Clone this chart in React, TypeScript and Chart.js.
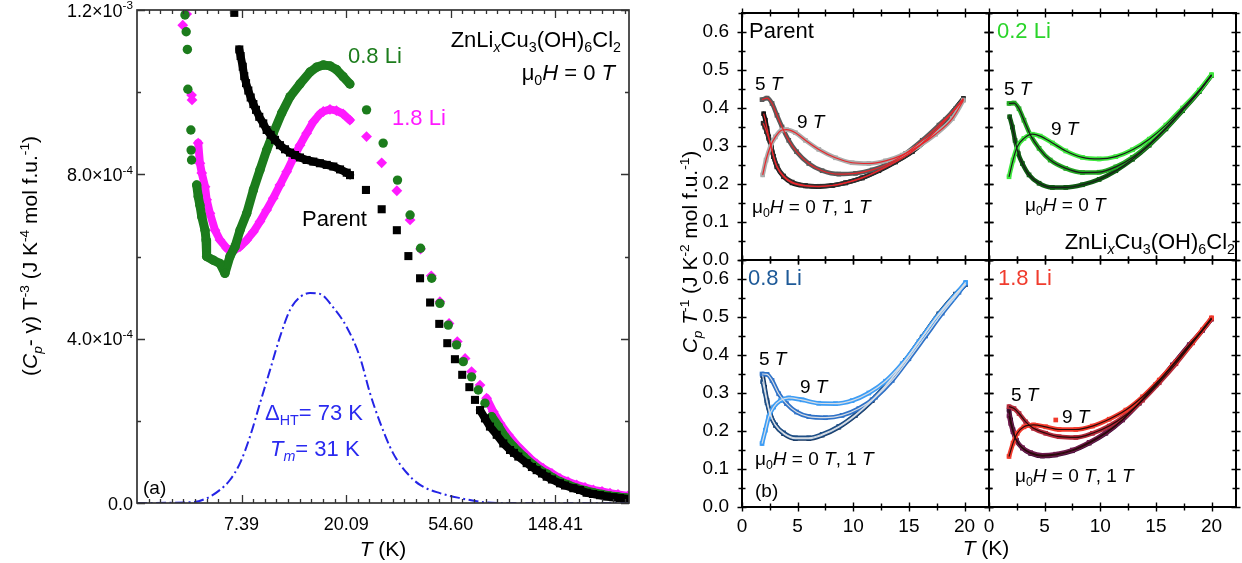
import React, { useEffect, useRef } from "react";
import { Chart, registerables } from "chart.js";
Chart.register(...registerables);

const FONT = "'Liberation Sans', Arial, Helvetica, sans-serif";
const W = 1242;
const H = 563;
type Pt = [number, number];
type Seg = [string, string?];

// ---------------- Panel (a) data: T (K), (Cp - gamma) T^-3 ----------------
const aParent: Pt[] = [
  [6.89, 1.193e-3], [7.23, 1.104e-3], [7.32, 1.088e-3], [7.47, 1.062e-3], [7.58, 1.039e-3], [7.71, 1.022e-3],
  [7.88, 1.004e-3], [8.06, 0.987e-3], [8.27, 0.971e-3], [8.48, 0.957e-3], [8.75, 0.94e-3], [9.09, 0.924e-3],
  [9.39, 0.908e-3], [9.76, 0.896e-3], [10.17, 0.884e-3], [10.66, 0.871e-3], [11.19, 0.861e-3], [11.74, 0.853e-3],
  [12.31, 0.847e-3], [12.91, 0.841e-3], [13.76, 0.835e-3], [14.67, 0.831e-3], [15.63, 0.827e-3], [16.68, 0.823e-3],
  [17.77, 0.819e-3], [18.94, 0.812e-3], [20.19, 0.804e-3], [20.83, 0.798e-3], [24.26, 0.762e-3], [28.2, 0.715e-3],
  [32.6, 0.664e-3], [36.4, 0.601e-3], [40.7, 0.547e-3], [44.8, 0.488e-3], [48.9, 0.436e-3], [52.8, 0.389e-3],
  [56.8, 0.35e-3], [60.9, 0.312e-3], [65.2, 0.282e-3], [68.8, 0.251e-3], [72.2, 0.226e-3], [75.7, 0.206e-3],
  [79.4, 0.186e-3], [84.7, 0.166e-3], [90.2, 0.145e-3], [96.2, 0.129e-3], [99.9, 0.122e-3], [104.1, 0.113e-3],
  [112.8, 0.097e-3], [118.6, 0.0876e-3], [124.1, 0.08e-3], [130.6, 0.0718e-3], [136.6, 0.064e-3], [143.6, 0.0572e-3],
  [155.1, 0.048e-3], [162.7, 0.0426e-3], [176.1, 0.036e-3], [187.8, 0.0316e-3], [200.1, 0.025e-3], [212.7, 0.0219e-3],
  [227.3, 0.019e-3], [243.0, 0.0158e-3], [258.3, 0.014e-3], [275.3, 0.0122e-3], [292.6, 0.01e-3],
];
const aLi08: Pt[] = [
  [4.3, 1.188e-3], [4.35, 1.147e-3], [4.4, 1.104e-3], [4.42, 1.007e-3], [4.55, 0.908e-3], [4.56, 0.859e-3],
  [4.58, 0.835e-3], [4.81, 0.774e-3], [4.88, 0.746e-3], [4.96, 0.725e-3], [5.05, 0.697e-3], [5.21, 0.664e-3],
  [5.26, 0.64e-3], [5.29, 0.6e-3], [5.64, 0.591e-3], [6.01, 0.583e-3], [6.3, 0.559e-3], [6.61, 0.6e-3],
  [6.94, 0.624e-3], [7.28, 0.664e-3], [7.76, 0.705e-3], [8.27, 0.762e-3], [8.81, 0.811e-3], [9.39, 0.859e-3],
  [10.0, 0.9e-3], [10.84, 0.949e-3], [11.74, 0.989e-3], [12.91, 1.02e-3], [14.21, 1.049e-3], [15.15, 1.061e-3],
  [16.14, 1.066e-3], [17.2, 1.064e-3], [18.3, 1.055e-3], [19.5, 1.038e-3], [20.8, 1.02e-3], [24.4, 0.957e-3],
  [28.6, 0.876e-3], [32.8, 0.786e-3], [37.0, 0.701e-3], [40.9, 0.62e-3], [45.5, 0.547e-3], [49.2, 0.486e-3],
  [53.3, 0.433e-3], [57.7, 0.385e-3], [61.5, 0.344e-3], [66.6, 0.307e-3], [71.0, 0.275e-3], [75.7, 0.243e-3],
  [80.7, 0.21e-3], [86.1, 0.186e-3], [91.7, 0.161e-3], [99.3, 0.137e-3], [109.3, 0.113e-3], [120.2, 0.092e-3],
  [128.1, 0.08e-3], [136.6, 0.071e-3], [145, 0.061e-3], [155.1, 0.052e-3], [167.4, 0.044e-3], [182, 0.036e-3],
  [197, 0.03e-3], [213.4, 0.025e-3], [231.8, 0.021e-3], [250.2, 0.017e-3], [270, 0.015e-3], [292.6, 0.012e-3],
];
const aLi18: Pt[] = [
  [4.21, 1.163e-3], [4.37, 1.19e-3], [4.58, 0.993e-3], [4.6, 0.981e-3], [4.88, 0.876e-3], [4.96, 0.827e-3],
  [5.05, 0.803e-3], [5.21, 0.77e-3], [5.29, 0.738e-3], [5.46, 0.705e-3], [5.73, 0.664e-3], [6.01, 0.64e-3],
  [6.41, 0.62e-3], [6.83, 0.614e-3], [7.28, 0.624e-3], [7.76, 0.64e-3], [8.27, 0.66e-3], [8.81, 0.685e-3],
  [9.39, 0.713e-3], [10.0, 0.742e-3], [10.66, 0.774e-3], [11.37, 0.806e-3], [12.11, 0.839e-3], [12.91, 0.871e-3],
  [13.76, 0.9e-3], [14.67, 0.928e-3], [15.63, 0.947e-3], [16.14, 0.953e-3], [17.2, 0.958e-3], [18.3, 0.955e-3],
  [19.5, 0.947e-3], [20.8, 0.932e-3], [24.4, 0.892e-3], [28.2, 0.828e-3], [32.6, 0.76e-3], [37.0, 0.689e-3],
  [40.9, 0.618e-3], [45.3, 0.553e-3], [49.2, 0.49e-3], [53.7, 0.437e-3], [58.1, 0.393e-3], [62.6, 0.352e-3],
  [66.6, 0.32e-3], [72.2, 0.287e-3], [76.9, 0.255e-3], [82.0, 0.222e-3], [87.4, 0.194e-3], [94.6, 0.166e-3],
  [104.1, 0.137e-3], [116.4, 0.109e-3], [124.4, 0.095e-3], [132.3, 0.084e-3], [143.6, 0.072e-3], [155.1, 0.06e-3],
  [167.4, 0.052e-3], [182, 0.044e-3], [197, 0.038e-3], [213.4, 0.032e-3], [231.8, 0.028e-3], [250.2, 0.024e-3],
  [270, 0.021e-3], [297, 0.017e-3],
];
const aSchottky: Pt[] = [
  [2.72, 0], [4.64, 0.002e-3], [5.31, 0.012e-3], [6.01, 0.032e-3], [6.61, 0.056e-3], [7.28, 0.097e-3],
  [8.0, 0.161e-3], [8.81, 0.243e-3], [9.7, 0.324e-3], [10.66, 0.404e-3], [11.74, 0.47e-3], [12.91, 0.501e-3],
  [14.21, 0.511e-3], [15.63, 0.509e-3], [17.7, 0.477e-3], [20.2, 0.428e-3], [22.9, 0.355e-3], [25.2, 0.268e-3],
  [27.8, 0.195e-3], [31.4, 0.122e-3], [35.9, 0.073e-3], [40.7, 0.044e-3], [49.2, 0.024e-3], [59.6, 0.012e-3],
  [74.3, 0.002e-3], [87.4, 0], [300, 0],
];
// T ranges where the measured points are so dense they form a continuous band
const aParentDense: Pt[] = [[7.0, 21], [70, 310]];
const aLi08Dense: Pt[] = [[4.7, 21], [78, 310]];
const aLi18Dense: Pt[] = [[4.8, 21], [74, 310]];

const aXTickExp = [2, 3, 4, 5];
const aXTickLabels = ["7.39", "20.09", "54.60", "148.41"];
const aYTicks = [0, 4e-4, 8e-4, 1.2e-3];
const aYMinor = [2e-4, 6e-4, 1e-3];
const aYTickLabels: Seg[][] = [
  [["0.0"]],
  [["4.0×10"], ["-4", "p"]],
  [["8.0×10"], ["-4", "p"]],
  [["1.2×10"], ["-3", "p"]],
];

// ---------------- Panel (b) data: T (K), Cp/T ----------------
const bParent0: Pt[] = [[1.95, 0.385], [2.1, 0.368], [2.25, 0.346], [2.4, 0.324], [2.63, 0.298], [2.84, 0.272], [3.14, 0.245], [3.74, 0.219], [4.5, 0.203], [5.7, 0.195], [6.9, 0.193], [8.1, 0.196], [9.3, 0.203], [10.8, 0.216], [12.3, 0.235], [13.8, 0.258], [15.3, 0.285], [16.8, 0.322], [18.3, 0.368], [19.9, 0.425]];
const bParent1: Pt[] = [[1.9, 0.36], [2.05, 0.35], [2.2, 0.338], [2.4, 0.32], [2.63, 0.296], [2.84, 0.272], [3.14, 0.247], [3.74, 0.221], [4.5, 0.205], [5.7, 0.196], [6.9, 0.194], [8.1, 0.196], [9.3, 0.203], [10.8, 0.216], [12.3, 0.236], [13.8, 0.259], [15.3, 0.286], [16.8, 0.323], [18.3, 0.369], [19.9, 0.424]];
const bParent5: Pt[] = [[1.8, 0.422], [2.25, 0.426], [2.7, 0.412], [3.14, 0.381], [3.6, 0.35], [4.2, 0.315], [4.9, 0.285], [6.0, 0.254], [7.2, 0.235], [8.7, 0.226], [10.2, 0.228], [11.7, 0.237], [13.2, 0.254], [14.7, 0.28], [16.2, 0.315], [17.7, 0.355], [19.2, 0.398], [19.9, 0.422]];
const bParent9: Pt[] = [[1.86, 0.224], [2.16, 0.263], [2.54, 0.298], [3.0, 0.324], [3.6, 0.342], [4.0, 0.343], [4.8, 0.335], [5.7, 0.315], [6.9, 0.291], [8.4, 0.269], [9.9, 0.256], [11.4, 0.254], [12.9, 0.261], [14.4, 0.276], [15.9, 0.3], [17.4, 0.331], [18.9, 0.372], [19.9, 0.42]];

const bLi02_0: Pt[] = [[1.86, 0.377], [2.1, 0.35], [2.34, 0.315], [2.63, 0.28], [3.0, 0.254], [3.6, 0.224], [4.5, 0.202], [5.7, 0.191], [6.9, 0.191], [8.4, 0.198], [9.9, 0.212], [11.4, 0.235], [12.9, 0.265], [14.4, 0.302], [15.9, 0.345], [17.4, 0.393], [18.9, 0.443], [20.0, 0.486]];
const bLi02_5: Pt[] = [[1.8, 0.412], [2.25, 0.413], [2.7, 0.398], [3.14, 0.368], [3.74, 0.328], [4.5, 0.294], [5.5, 0.263], [6.9, 0.241], [8.4, 0.23], [9.9, 0.231], [11.4, 0.245], [12.9, 0.27], [14.4, 0.305], [15.9, 0.348], [17.4, 0.396], [18.9, 0.445], [20.0, 0.486]];
const bLi02_9: Pt[] = [[1.8, 0.219], [2.16, 0.263], [2.54, 0.298], [3.14, 0.32], [3.9, 0.331], [4.6, 0.326], [5.7, 0.308], [6.9, 0.287], [8.4, 0.27], [9.9, 0.266], [11.4, 0.272], [12.9, 0.29], [14.4, 0.318], [15.9, 0.355], [17.4, 0.4], [18.9, 0.447], [20.0, 0.488]];

const bLi08_0: Pt[] = [[1.86, 0.346], [2.04, 0.315], [2.25, 0.28], [2.54, 0.245], [3.0, 0.215], [3.74, 0.193], [4.8, 0.18], [6.0, 0.18], [7.2, 0.189], [8.7, 0.21], [10.2, 0.241], [11.7, 0.28], [13.2, 0.328], [14.7, 0.385], [16.2, 0.447], [17.7, 0.508], [19.2, 0.56], [20.1, 0.586]];
const bLi08_1: Pt[] = [[1.86, 0.33], [2.04, 0.305], [2.25, 0.275], [2.54, 0.243], [3.0, 0.216], [3.74, 0.195], [4.8, 0.182], [6.0, 0.182], [7.2, 0.191], [8.7, 0.212], [10.2, 0.243], [11.7, 0.282], [13.2, 0.33], [14.7, 0.386], [16.2, 0.447], [17.7, 0.508], [19.2, 0.56], [20.1, 0.586]];
const bLi08_5: Pt[] = [[1.8, 0.35], [2.25, 0.349], [2.7, 0.333], [3.3, 0.298], [4.0, 0.272], [4.9, 0.25], [6.0, 0.238], [7.5, 0.235], [9.0, 0.241], [10.5, 0.259], [12.0, 0.289], [13.5, 0.333], [15.0, 0.39], [16.5, 0.45], [18.0, 0.51], [19.5, 0.565], [20.1, 0.588]];
const bLi08_9: Pt[] = [[1.8, 0.167], [2.1, 0.202], [2.4, 0.237], [2.84, 0.263], [3.44, 0.28], [4.2, 0.287], [5.4, 0.282], [6.9, 0.273], [8.4, 0.272], [9.9, 0.28], [11.4, 0.3], [12.9, 0.331], [14.4, 0.377], [15.9, 0.435], [17.4, 0.495], [18.9, 0.548], [20.1, 0.591]];

const bLi18_0: Pt[] = [[1.8, 0.255], [1.95, 0.229], [2.16, 0.203], [2.46, 0.176], [3.0, 0.155], [3.74, 0.141], [4.8, 0.134], [6.0, 0.137], [7.5, 0.148], [9.0, 0.168], [10.5, 0.194], [12.0, 0.229], [13.5, 0.273], [15.0, 0.321], [16.5, 0.373], [18.0, 0.426], [19.2, 0.465], [20.0, 0.495]];
const bLi18_1: Pt[] = [[1.8, 0.24], [1.95, 0.22], [2.16, 0.198], [2.46, 0.175], [3.0, 0.156], [3.74, 0.143], [4.8, 0.136], [6.0, 0.139], [7.5, 0.15], [9.0, 0.17], [10.5, 0.196], [12.0, 0.23], [13.5, 0.274], [15.0, 0.322], [16.5, 0.374], [18.0, 0.427], [19.2, 0.466], [20.0, 0.495]];
const bLi18_5: Pt[] = [[1.8, 0.264], [2.25, 0.259], [2.7, 0.246], [3.3, 0.224], [4.0, 0.207], [5.1, 0.194], [6.3, 0.185], [7.8, 0.183], [9.3, 0.194], [10.8, 0.213], [12.3, 0.242], [13.8, 0.281], [15.3, 0.327], [16.8, 0.377], [18.3, 0.432], [20.0, 0.495]];
const bLi18_9: Pt[] = [[1.8, 0.133], [2.16, 0.168], [2.54, 0.194], [3.14, 0.211], [4.0, 0.216], [5.1, 0.211], [6.3, 0.204], [7.8, 0.204], [9.3, 0.213], [10.8, 0.231], [12.3, 0.255], [13.8, 0.29], [15.3, 0.334], [16.8, 0.382], [18.3, 0.434], [20.0, 0.498]];
const bLi18_9stray: Pt[] = [[6.0, 0.229]];

const bXTicks = [0, 5, 10, 15, 20];
const bYTicks = [0, 0.1, 0.2, 0.3, 0.4, 0.5, 0.6];

// ---------------- rich text helpers ----------------
function fontFor(size: number, f: string) {
  const small = f.includes("b") || f.includes("p");
  const sz = small ? size * 0.65 : size;
  return `${f.includes("i") ? "italic " : ""}${sz}px ${FONT}`;
}
function richWidth(ctx: CanvasRenderingContext2D, segs: Seg[], size: number) {
  let w = 0;
  for (const [t, f = ""] of segs) {
    ctx.font = fontFor(size, f);
    w += ctx.measureText(t).width;
  }
  return w;
}
interface Note { s: Seg[]; x: number; y: number; size: number; color?: string; align?: "left" | "right" | "center"; rot?: number }
function drawNote(ctx: CanvasRenderingContext2D, n: Note) {
  ctx.save();
  ctx.translate(n.x, n.y);
  if (n.rot) ctx.rotate(n.rot);
  const w = richWidth(ctx, n.s, n.size);
  let cx = n.align === "right" ? -w : n.align === "center" ? -w / 2 : 0;
  ctx.fillStyle = n.color || "#000";
  ctx.textBaseline = "alphabetic";
  ctx.textAlign = "left";
  for (const [t, f = ""] of n.s) {
    ctx.font = fontFor(n.size, f);
    const dy = f.includes("b") ? n.size * 0.22 : f.includes("p") ? -n.size * 0.4 : 0;
    ctx.fillText(t, cx, dy);
    cx += ctx.measureText(t).width;
  }
  ctx.restore();
}

const xy = (pts: Pt[]) => pts.map(([x, y]) => ({ x, y }));
const zeroPad = (s: any) => {
  s.paddingTop = 0; s.paddingBottom = 0; s.paddingLeft = 0; s.paddingRight = 0;
};

// ---------------- panel (a) ----------------
function denseOnly(pts: Pt[], ranges: Pt[]) {
  return (c: any) => {
    const a = pts[c.p0DataIndex][0];
    const b = pts[c.p1DataIndex][0];
    return ranges.some(([lo, hi]) => a >= lo && b <= hi) ? undefined : "rgba(0,0,0,0)";
  };
}

const muH: Seg[] = [["μ"], ["0", "b"], ["H", "i"], [" = 0 "], ["T", "i"]];
const muH01: Seg[] = [...muH, [", 1 "], ["T", "i"]];
const formula: Seg[] = [["ZnLi"], ["x", "ib"], ["Cu"], ["3", "b"], ["(OH)"], ["6", "b"], ["Cl"], ["2", "b"]];
const tK: Seg[] = [["T", "i"], [" (K)"]];

const notesA: Note[] = [
  { s: formula, x: 621, y: 47, size: 22, align: "right" },
  { s: muH, x: 615, y: 80, size: 22, align: "right" },
  { s: [["0.8 Li"]], x: 348, y: 63, size: 22, color: "#1c7c1c" },
  { s: [["1.8 Li"]], x: 392, y: 125, size: 22, color: "#ff1aff" },
  { s: [["Parent"]], x: 302, y: 226, size: 22 },
  { s: [["Δ"], ["HT", "b"], ["= 73 K"]], x: 265, y: 420, size: 22, color: "#2a2af0" },
  { s: [["T", "i"], ["m", "ib"], ["= 31 K"]], x: 270, y: 456, size: 22, color: "#2a2af0" },
  { s: [["(a)"]], x: 143, y: 494, size: 19 },
  { s: tK, x: 383, y: 556, size: 21, align: "center" },
  {
    s: [["("], ["C", "i"], ["p", "ib"], ["- γ) T"], ["-3", "p"], [" (J K"], ["-4", "p"], [" mol f.u."], ["-1", "p"], [")"]],
    x: 37, y: 256, size: 21, align: "center", rot: -Math.PI / 2,
  },
];

const plugA = {
  id: "panelA",
  afterDraw(chart: any) {
    const { ctx } = chart;
    const { left, right, top, bottom } = chart.chartArea;
    const xs = chart.scales.x;
    const ys = chart.scales.y;
    ctx.save();
    ctx.strokeStyle = "#333";
    ctx.lineWidth = 1.3;
    ctx.beginPath();
    const lnMax = Math.log(300);
    for (let k = 1; 1 + k / 9 < lnMax; k++) {
      const px = Math.round(xs.getPixelForValue(Math.exp(1 + k / 9))) + 0.5;
      const len = k % 9 === 0 ? 8 : 4;
      ctx.moveTo(px, bottom); ctx.lineTo(px, bottom - len);
      ctx.moveTo(px, top); ctx.lineTo(px, top + len);
    }
    const yt = (v: number, len: number) => {
      const py = Math.round(ys.getPixelForValue(v)) + 0.5;
      ctx.moveTo(left, py); ctx.lineTo(left + len, py);
      ctx.moveTo(right, py); ctx.lineTo(right - len, py);
    };
    aYTicks.forEach((v) => yt(v, 8));
    aYMinor.forEach((v) => yt(v, 4));
    ctx.stroke();
    ctx.lineWidth = 1.7;
    ctx.strokeRect(left, top, right - left, bottom - top);
    ctx.restore();
    aYTicks.forEach((v, i) => {
      drawNote(ctx, { s: aYTickLabels[i], x: 133, y: ys.getPixelForValue(v) + 6.5, size: 18, align: "right" });
    });
    notesA.forEach((n) => drawNote(ctx, n));
  },
};

function configA(): any {
  const YW = 60, XH = 40;
  const area = { l: 137, t: 10, r: 629, b: 503 };
  return {
    type: "scatter",
    data: {
      datasets: [
        {
          data: xy(aParent), showLine: true, borderColor: "#000", borderWidth: 8, borderCapStyle: "round", borderJoinStyle: "round",
          segment: { borderColor: denseOnly(aParent, aParentDense) },
          pointStyle: "rect", pointRadius: 5.7, backgroundColor: "#000", pointBorderWidth: 0, order: 1,
        },
        {
          data: xy(aLi08), showLine: true, borderColor: "#1c7c1c", borderWidth: 9, borderCapStyle: "round", borderJoinStyle: "round",
          segment: { borderColor: denseOnly(aLi08, aLi08Dense) },
          pointStyle: "circle", pointRadius: 4.7, backgroundColor: "#1c7c1c", pointBorderWidth: 0, order: 2,
        },
        {
          data: xy(aLi18), showLine: true, borderColor: "#ff1aff", borderWidth: 8, borderCapStyle: "round", borderJoinStyle: "round",
          segment: { borderColor: denseOnly(aLi18, aLi18Dense) },
          pointStyle: "rectRot", pointRadius: 5.4, backgroundColor: "#ff1aff", pointBorderWidth: 0, order: 3,
        },
        {
          data: xy(aSchottky), showLine: true, borderColor: "#2424e6", borderWidth: 2, borderDash: [10, 3.5, 2, 3.5],
          cubicInterpolationMode: "monotone", pointRadius: 0, order: 0,
        },
      ],
    },
    options: {
      responsive: false, animation: false, devicePixelRatio: 1, events: [],
      layout: { padding: { left: area.l - YW, right: W - area.r, top: area.t, bottom: H - area.b - XH } },
      plugins: { legend: { display: false }, tooltip: { enabled: false } },
      scales: {
        x: {
          type: "logarithmic", min: Math.E, max: 300,
          grid: { display: false }, border: { display: false },
          afterBuildTicks: (s: any) => { s.ticks = aXTickExp.map((e) => ({ value: Math.exp(e) })); },
          afterFit: (s: any) => { s.height = XH; zeroPad(s); },
          ticks: {
            padding: 3, color: "#000", font: { family: FONT, size: 18 }, autoSkip: false, maxRotation: 0,
            callback: (_v: any, i: number) => aXTickLabels[i],
          },
        },
        y: {
          type: "linear", min: 0, max: 1.2e-3,
          grid: { display: false }, border: { display: false },
          afterBuildTicks: (s: any) => { s.ticks = aYTicks.map((v) => ({ value: v })); },
          afterFit: (s: any) => { s.width = YW; zeroPad(s); },
          ticks: { display: false },
        },
      },
    },
    plugins: [plugA],
  };
}

// ---------------- panel (b) ----------------
function band(pts: Pt[], color: string, order: number): any {
  return {
    data: xy(pts), showLine: true, borderColor: color, backgroundColor: color, borderWidth: 4.5,
    borderJoinStyle: "round", borderCapStyle: "round", cubicInterpolationMode: "monotone",
    pointStyle: "rect", pointRadius: 3.3, pointBorderWidth: 0, order,
  };
}
function fitLine(pts: Pt[], color: string): any {
  return {
    data: xy(pts), showLine: true, borderColor: color, borderWidth: 1.2,
    cubicInterpolationMode: "monotone", pointRadius: 0, order: 0,
  };
}

interface Area { l: number; t: number; r: number; b: number }

function pluginB(notes: Note[]) {
  return {
    id: "panelB",
    afterDraw(chart: any) {
      const { ctx } = chart;
      const { left, right, top, bottom } = chart.chartArea;
      const xs = chart.scales.x;
      const ys = chart.scales.y;
      ctx.save();
      ctx.strokeStyle = "#000";
      ctx.lineWidth = 1.4;
      ctx.beginPath();
      for (let v = 0; v <= 22; v += 2.5) {
        const px = Math.round(xs.getPixelForValue(v)) + 0.5;
        const len = v % 5 === 0 ? 4.5 : 3.5;
        ctx.moveTo(px, bottom - len); ctx.lineTo(px, bottom + len);
        ctx.moveTo(px, top - len); ctx.lineTo(px, top + len);
      }
      for (let k = 0; k <= 13; k++) {
        const v = k * 0.05;
        const py = Math.round(ys.getPixelForValue(v)) + 0.5;
        const len = k % 2 === 0 ? 4.5 : 3.5;
        ctx.moveTo(left - len, py); ctx.lineTo(left + len, py);
        ctx.moveTo(right - len, py); ctx.lineTo(right + len, py);
      }
      ctx.stroke();
      ctx.lineWidth = 2;
      ctx.strokeRect(left, top, right - left, bottom - top);
      ctx.restore();
      notes.forEach((n) => drawNote(ctx, n));
    },
  };
}

function configB(area: Area, datasets: any[], showX: boolean, showY: boolean, notes: Note[]): any {
  const YW = 60, XH = 30;
  return {
    type: "scatter",
    data: { datasets },
    options: {
      responsive: false, animation: false, devicePixelRatio: 1, events: [],
      layout: { padding: { left: area.l - YW, right: W - area.r, top: area.t, bottom: H - area.b - XH } },
      plugins: { legend: { display: false }, tooltip: { enabled: false } },
      scales: {
        x: {
          type: "linear", min: 0, max: 22.2,
          grid: { display: false }, border: { display: false },
          afterBuildTicks: (s: any) => { s.ticks = bXTicks.map((v) => ({ value: v })); },
          afterFit: (s: any) => { s.height = XH; zeroPad(s); },
          ticks: {
            display: showX, padding: 0, color: "#000", font: { family: FONT, size: 19 },
            autoSkip: false, maxRotation: 0, callback: (v: any) => String(v),
          },
        },
        y: {
          type: "linear", min: 0, max: 0.65,
          grid: { display: false }, border: { display: false },
          afterBuildTicks: (s: any) => { s.ticks = bYTicks.map((v) => ({ value: v })); },
          afterFit: (s: any) => { s.width = YW; zeroPad(s); },
          ticks: {
            display: showY, padding: 5, color: "#000", font: { family: FONT, size: 19 },
            autoSkip: false, callback: (v: any) => Number(v).toFixed(1),
          },
        },
      },
    },
    plugins: [pluginB(notes)],
  };
}

const t5: Seg[] = [["5 "], ["T", "i"]];
const t9: Seg[] = [["9 "], ["T", "i"]];

function configsB(): any[] {
  const parent = configB(
    { l: 742, t: 13, r: 989, b: 260 },
    [
      fitLine(bParent0, "#e8262b"), fitLine(bParent1, "#e8262b"), fitLine(bParent5, "#e8262b"), fitLine(bParent9, "#e8262b"),
      band(bParent9, "#ababab", 1), band(bParent5, "#5a5a5a", 2), band(bParent1, "#2e2e2e", 3), band(bParent0, "#111111", 4),
    ],
    false, true,
    [
      { s: [["Parent"]], x: 749, y: 38, size: 22 },
      { s: t5, x: 755, y: 90, size: 19 },
      { s: t9, x: 797, y: 128, size: 19 },
      { s: muH01, x: 752, y: 213, size: 19 },
    ],
  );
  const li02 = configB(
    { l: 989, t: 13, r: 1236, b: 260 },
    [
      fitLine(bLi02_0, "#1a1a1a"), fitLine(bLi02_5, "#1a1a1a"), fitLine(bLi02_9, "#1a1a1a"),
      band(bLi02_9, "#3ee83e", 1), band(bLi02_5, "#23a823", 2), band(bLi02_0, "#0e5a12", 3),
    ],
    false, false,
    [
      { s: [["0.2 Li"]], x: 997, y: 38, size: 22, color: "#2ad42a" },
      { s: t5, x: 1004, y: 95, size: 19 },
      { s: t9, x: 1051, y: 135, size: 19 },
      { s: muH, x: 1025, y: 211, size: 19 },
      { s: formula, x: 1235, y: 249, size: 22, align: "right" },
    ],
  );
  const li08 = configB(
    { l: 742, t: 260, r: 989, b: 507 },
    [
      fitLine(bLi08_0, "#d8dde4"), fitLine(bLi08_1, "#d8dde4"), fitLine(bLi08_5, "#d8dde4"), fitLine(bLi08_9, "#d8dde4"),
      band(bLi08_9, "#3d9df5", 1), band(bLi08_5, "#2f72c8", 2), band(bLi08_1, "#1f4f86", 3), band(bLi08_0, "#16355e", 4),
    ],
    true, true,
    [
      { s: [["0.8 Li"]], x: 748, y: 285, size: 22, color: "#1e5a98" },
      { s: t5, x: 759, y: 365, size: 19 },
      { s: t9, x: 800, y: 393, size: 19 },
      { s: muH01, x: 755, y: 465, size: 19 },
      { s: [["(b)"]], x: 755, y: 497, size: 19 },
      {
        s: [["C", "i"], ["p", "ib"], [" "], ["T", "i"], ["-1", "p"], [" (J K"], ["-2", "p"], [" mol f.u."], ["-1", "p"], [")"]],
        x: 697, y: 252, size: 21, align: "center", rot: -Math.PI / 2,
      },
    ],
  );
  const li18 = configB(
    { l: 989, t: 260, r: 1236, b: 507 },
    [
      fitLine(bLi18_0, "#2a0a0a"), fitLine(bLi18_1, "#2a0a0a"), fitLine(bLi18_5, "#2a0a0a"), fitLine(bLi18_9, "#2a0a0a"),
      { ...band(bLi18_9stray, "#f23a2c", 1), showLine: false },
      band(bLi18_9, "#f23a2c", 1), band(bLi18_5, "#b32a3a", 2), band(bLi18_1, "#6e1a4c", 3), band(bLi18_0, "#3f0f36", 4),
    ],
    true, false,
    [
      { s: [["1.8 Li"]], x: 998, y: 285, size: 22, color: "#f03c2e" },
      { s: t5, x: 1011, y: 401, size: 19 },
      { s: t9, x: 1062, y: 423, size: 19 },
      { s: muH01, x: 1015, y: 482, size: 19 },
      { s: tK, x: 986, y: 555, size: 21, align: "center" },
    ],
  );
  return [parent, li02, li08, li18];
}

export default function App() {
  const refs = useRef<(HTMLCanvasElement | null)[]>([]);
  useEffect(() => {
    const cfgs = [configA(), ...configsB()];
    const charts = cfgs.map((cfg, i) => new Chart(refs.current[i] as HTMLCanvasElement, cfg));
    return () => charts.forEach((c) => c.destroy());
  }, []);
  return (
    <div style={{ position: "fixed", left: 0, top: 0, width: W, height: H, background: "#fff", overflow: "hidden" }}>
      {[0, 1, 2, 3, 4].map((i) => (
        <canvas
          key={i}
          ref={(el) => { refs.current[i] = el; }}
          width={W}
          height={H}
          style={{ position: "absolute", left: 0, top: 0, width: W, height: H }}
        />
      ))}
    </div>
  );
}
